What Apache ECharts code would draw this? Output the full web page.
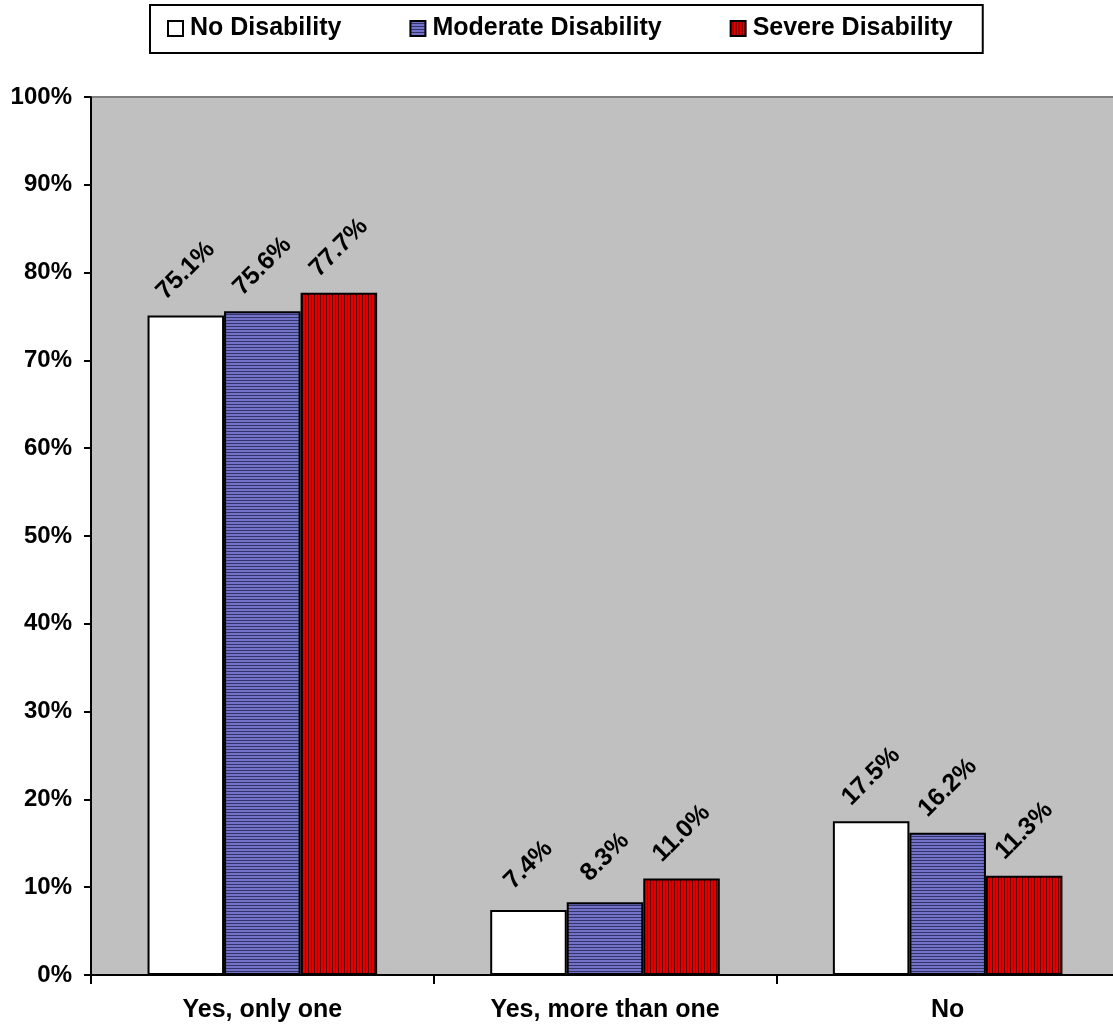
<!DOCTYPE html>
<html>
<head>
<meta charset="utf-8">
<script src="https://cdn.jsdelivr.net/npm/echarts@6/dist/echarts.min.js"></script>
<style>
  html, body { margin: 0; padding: 0; background: #ffffff; }
  #chart { width: 1113px; height: 1028px; }
</style>
</head>
<body>
<div id="chart"></div>
<script>
const categories = ['Yes, only one', 'Yes, more than one', 'No'];
const seriesNames = ['No Disability', 'Moderate Disability', 'Severe Disability'];
const noDisability = [75.1, 7.4, 17.5];
const moderateDisability = [75.6, 8.3, 16.2];
const severeDisability = [77.7, 11.0, 11.3];

function stripePattern(base, dark, horizontal) {
  const c = document.createElement('canvas');
  c.width = 3; c.height = 3;
  const ctx = c.getContext('2d');
  ctx.fillStyle = base;
  ctx.fillRect(0, 0, 3, 3);
  ctx.fillStyle = dark;
  if (horizontal) ctx.fillRect(0, 2, 3, 1);
  else ctx.fillRect(2, 0, 1, 3);
  return { image: c, repeat: 'repeat' };
}

const FONT = "'Liberation Sans', Arial, sans-serif";
const fills = [
  '#ffffff',
  stripePattern('#7272c8', '#34346a', true),
  stripePattern('#e00000', '#5a0000', false)
];
const dataSets = [noDisability, moderateDisability, severeDisability];

const chart = echarts.init(document.getElementById('chart'), null, { renderer: 'canvas' });
chart.setOption({
  animation: false,
  backgroundColor: '#ffffff',
  textStyle: { fontFamily: FONT },
  legend: {
    top: 5,
    left: 150,
    data: seriesNames.map(n => ({ name: n, icon: 'rect' })),
    orient: 'horizontal',
    borderColor: '#000',
    borderWidth: 2,
    padding: [11, 30, 12, 17],
    itemWidth: 15,
    itemHeight: 15,
    itemGap: 68,
    textStyle: { fontFamily: FONT, fontWeight: 'bold', fontSize: 25, color: '#000', padding: [0, 0, 0, 2] }
  },
  grid: {
    left: 91, width: 1028, top: 97, bottom: 53,
    outerBoundsMode: 'none',
    containLabel: false,
    show: true,
    backgroundColor: '#c0c0c0',
    borderWidth: 0
  },
  xAxis: {
    type: 'category',
    data: categories,
    axisLine: { lineStyle: { color: '#000', width: 2 } },
    axisTick: { show: true, length: 9, lineStyle: { color: '#000', width: 2 } },
    axisLabel: { fontFamily: FONT, fontWeight: 'bold', fontSize: 25, color: '#000', margin: 23 }
  },
  yAxis: {
    type: 'value',
    min: 0, max: 100, interval: 10,
    axisLine: { show: true, lineStyle: { color: '#000', width: 2 } },
    axisTick: { show: true, length: 7, lineStyle: { color: '#000', width: 2 } },
    splitLine: { show: false },
    axisLabel: { fontFamily: FONT, fontWeight: 'bold', fontSize: 24, color: '#000', margin: 19, formatter: '{value}%' }
  },
  graphic: [{
    type: 'line', silent: true, z: 5,
    shape: { x1: 92, y1: 97, x2: 1113, y2: 97 },
    style: { stroke: '#808080', lineWidth: 2 }
  }],
  series: seriesNames.map((name, i) => ({
    name: name,
    type: 'bar',
    data: dataSets[i],
    barGap: '0%',
    barCategoryGap: '33%',
    itemStyle: { color: fills[i], borderColor: '#000', borderWidth: 2 },
    label: {
      show: true,
      position: 'top',
      distance: 45,
      rotate: 45,
      align: 'center',
      verticalAlign: 'middle',
      fontFamily: FONT,
      fontWeight: 'bold',
      fontSize: 25,
      color: '#000',
      formatter: (p) => p.value.toFixed(1) + '%'
    }
  }))
});
</script>
</body>
</html>
